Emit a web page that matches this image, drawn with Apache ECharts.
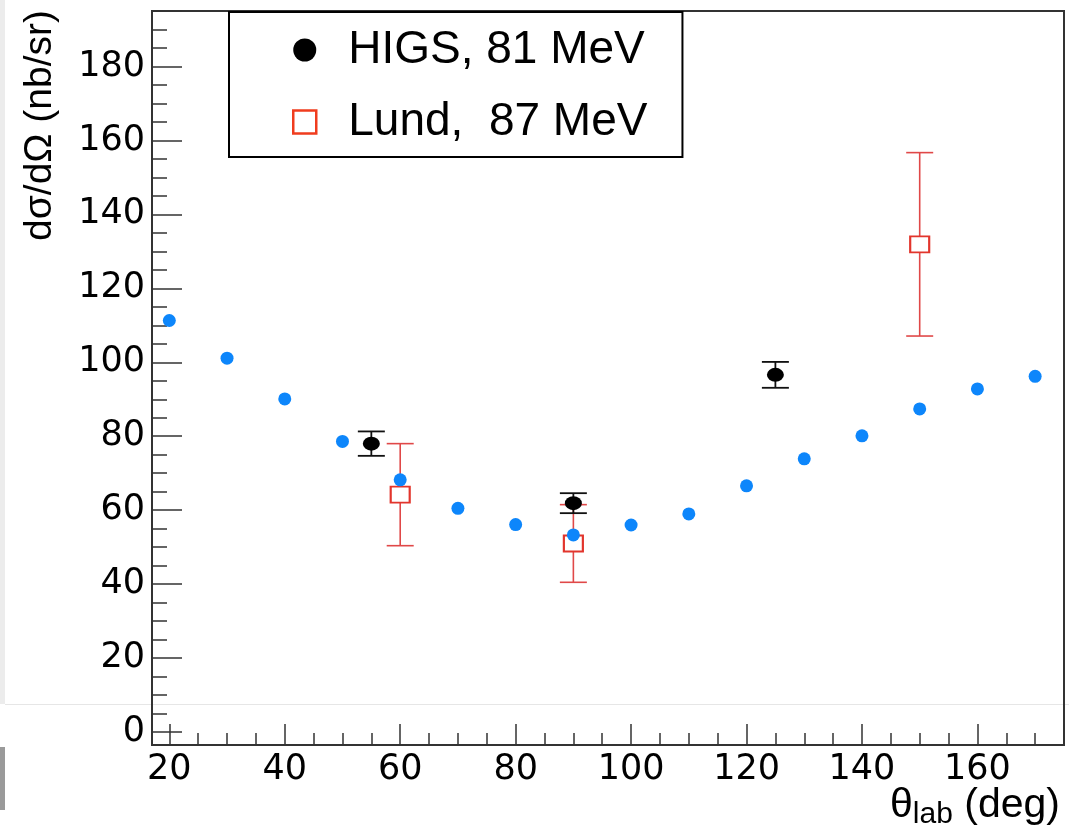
<!DOCTYPE html>
<html><head><meta charset="utf-8">
<script src="https://cdn.jsdelivr.net/npm/echarts@6/dist/echarts.min.js"></script>
<style>html,body{margin:0;padding:0;background:#fff}#c{width:1069px;height:835px}</style>
</head><body><div id="c"></div>
<script>
// ---- data ----
const theoryAngles = [20, 30, 40, 50, 60, 70, 80, 90, 100, 110, 120, 130, 140, 150, 160, 170];
const theoryValues = [111.3, 101.1, 90.1, 78.6, 68.2, 60.5, 56.1, 53.3, 56.0, 59.0, 66.6, 73.9, 80.1, 87.4, 92.8, 96.2];
const higsAngles = [55, 90, 125];
const higsValues = [78.0, 61.9, 96.6];
const higsErrors = [3.3, 2.7, 3.5];
const lundAngles = [60, 90, 150];
const lundValues = [64.2, 51.0, 131.9];
const lundErrors = [13.8, 10.5, 24.8];
const xTickLabels = [20, 40, 60, 80, 100, 120, 140, 160];
const yTickLabels = [0, 20, 40, 60, 80, 100, 120, 140, 160, 180];
const higsName = 'HIGS, 81 MeV';
const lundName = 'Lund,  87 MeV';
const xTitle = '{t|θ}{s|lab}{t| (deg)}';
const yTitle = 'dσ/dΩ (nb/sr)';

const X_MIN = 17, X_MAX = 175, Y_MIN = -3.5, Y_MAX = 195;
const FONT = 'Liberation Sans, Arial, sans-serif';
const AXIS_COLOR = '#333';
const RED = '#e2352c';

function errorRenderer(color, capHalf, width) {
  return function (params, api) {
    const x = api.value(0), lo = api.value(1), hi = api.value(2);
    const pLo = api.coord([x, lo]);
    const pHi = api.coord([x, hi]);
    const style = { stroke: color, lineWidth: width };
    return {
      type: 'group',
      children: [
        { type: 'line', shape: { x1: pLo[0], y1: pLo[1], x2: pHi[0], y2: pHi[1] }, style: style },
        { type: 'line', shape: { x1: pLo[0] - capHalf, y1: pLo[1], x2: pLo[0] + capHalf, y2: pLo[1] }, style: style },
        { type: 'line', shape: { x1: pHi[0] - capHalf, y1: pHi[1], x2: pHi[0] + capHalf, y2: pHi[1] }, style: style }
      ]
    };
  };
}

const chart = echarts.init(document.getElementById('c'), null, { renderer: 'canvas' });

const axisLabelStyle = { fontFamily: 'DejaVu Sans, sans-serif', fontSize: 35, color: '#000' };

chart.setOption({
  animation: false,
  backgroundColor: '#fff',
  grid: {
    left: 152, right: 5, top: 11, bottom: 90,
    show: true, borderColor: AXIS_COLOR, borderWidth: 2, backgroundColor: 'transparent'
  },
  legend: {
    orient: 'vertical',
    left: 229, top: 12,
    padding: [15, 35, 12, 63],
    itemGap: 26,
    itemWidth: 23, itemHeight: 23,
    borderColor: '#000', borderWidth: 2,
    backgroundColor: '#fff',
    selectedMode: false,
    textStyle: { fontFamily: FONT, fontSize: 46, lineHeight: 46, color: '#000', padding: [0, 0, 0, 27] },
    data: [
      { name: higsName, icon: 'circle', itemStyle: { color: '#000', borderWidth: 0 } },
      { name: lundName, icon: 'rect', itemStyle: { color: '#fff', borderColor: '#f03c1e', borderWidth: 2.5 } }
    ],
    z: 20
  },
  xAxis: [
    {
      type: 'value', min: X_MIN, max: X_MAX, splitNumber: 8, position: 'bottom',
      axisLine: { show: true, onZero: false, lineStyle: { color: AXIS_COLOR, width: 2 } },
      axisTick: { show: true, inside: true, length: 21, lineStyle: { color: AXIS_COLOR, width: 1.5 } },
      axisLabel: {
        show: true, margin: 7, ...axisLabelStyle,
        showMinLabel: true, showMaxLabel: true, hideOverlap: false,
        formatter: function (v) { return xTickLabels.indexOf(Math.round(v * 1000) / 1000) >= 0 ? String(v) : ''; }
      },
      splitLine: { show: false },
      name: xTitle,
      nameLocation: 'end',
      nameGap: -4,
      nameMoveOverlap: false,
      nameTextStyle: {
        align: 'right', verticalAlign: 'top', padding: [37, 0, 0, 0],
        rich: {
          t: { fontFamily: FONT, fontSize: 41, lineHeight: 48, color: '#000' },
          s: { fontFamily: FONT, fontSize: 30, lineHeight: 20, verticalAlign: 'bottom', color: '#000' }
        }
      }
    },
    {
      type: 'value', min: X_MIN, max: X_MAX, splitNumber: 32, position: 'bottom', offset: 0,
      axisLine: { show: false, onZero: false },
      axisTick: { show: true, inside: true, length: 12, lineStyle: { color: AXIS_COLOR, width: 1.5 } },
      axisLabel: { show: false },
      splitLine: { show: false }
    }
  ],
  yAxis: [
    {
      type: 'value', min: Y_MIN, max: Y_MAX, splitNumber: 10, position: 'left',
      axisLine: { show: true, onZero: false, lineStyle: { color: AXIS_COLOR, width: 2 } },
      axisTick: { show: true, inside: true, length: 30, lineStyle: { color: AXIS_COLOR, width: 1.5 } },
      axisLabel: {
        show: true, margin: 7, ...axisLabelStyle,
        showMinLabel: true, showMaxLabel: true, hideOverlap: false,
        formatter: function (v) { return yTickLabels.indexOf(Math.round(v * 1000) / 1000) >= 0 ? String(v) : ''; }
      },
      splitLine: { show: false },
      name: yTitle,
      nameLocation: 'end',
      nameRotate: 90,
      nameGap: 1,
      nameMoveOverlap: false,
      nameTextStyle: {
        fontFamily: FONT, fontSize: 39, lineHeight: 46, color: '#000',
        align: 'right', verticalAlign: 'bottom', padding: [0, 0, 89, 0]
      }
    },
    {
      type: 'value', min: Y_MIN, max: Y_MAX, splitNumber: 40, position: 'left', offset: 0,
      axisLine: { show: false, onZero: false },
      axisTick: { show: true, inside: true, length: 15, lineStyle: { color: AXIS_COLOR, width: 1.5 } },
      axisLabel: { show: false },
      splitLine: { show: false }
    }
  ],
  series: [
    {
      name: 'Lund errors', type: 'custom', xAxisIndex: 0, yAxisIndex: 0, z: 2,
      renderItem: errorRenderer('#e04848', 13.5, 1.6),
      encode: { x: 0, y: [1, 2] },
      data: lundAngles.map(function (a, i) { return [a, lundValues[i] - lundErrors[i], lundValues[i] + lundErrors[i]]; })
    },
    {
      name: lundName, type: 'scatter', xAxisIndex: 0, yAxisIndex: 0, z: 3,
      symbol: 'rect', symbolSize: [19, 16],
      itemStyle: { color: '#fff', borderColor: RED, borderWidth: 2, opacity: 1 },
      data: lundAngles.map(function (a, i) { return [a, lundValues[i]]; })
    },
    {
      name: 'HIGS errors', type: 'custom', xAxisIndex: 0, yAxisIndex: 0, z: 4,
      renderItem: errorRenderer('#111', 13.5, 1.8),
      encode: { x: 0, y: [1, 2] },
      data: higsAngles.map(function (a, i) { return [a, higsValues[i] - higsErrors[i], higsValues[i] + higsErrors[i]]; })
    },
    {
      name: higsName, type: 'scatter', xAxisIndex: 0, yAxisIndex: 0, z: 5,
      symbol: 'circle', symbolSize: [17, 14],
      itemStyle: { color: '#000', opacity: 1 },
      data: higsAngles.map(function (a, i) { return [a, higsValues[i]]; })
    },
    {
      name: 'Theory', type: 'scatter', xAxisIndex: 0, yAxisIndex: 0, z: 6,
      symbol: 'circle', symbolSize: 13,
      itemStyle: { color: '#0d86fb', opacity: 1 },
      data: theoryAngles.map(function (a, i) { return [a, theoryValues[i]]; })
    }
  ],
  graphic: [
    { type: 'rect', left: 0, top: 0, shape: { width: 5, height: 704 }, style: { fill: '#ececec' }, z: -1, silent: true },
    { type: 'rect', left: 0, top: 747, shape: { width: 5, height: 63 }, style: { fill: '#9a9a9a' }, z: -1, silent: true },
    { type: 'line', shape: { x1: 5, y1: 704.5, x2: 1069, y2: 704.5 }, style: { stroke: '#e6e6e6', lineWidth: 1 }, z: -1, silent: true }
  ]
});
</script>
</body></html>
